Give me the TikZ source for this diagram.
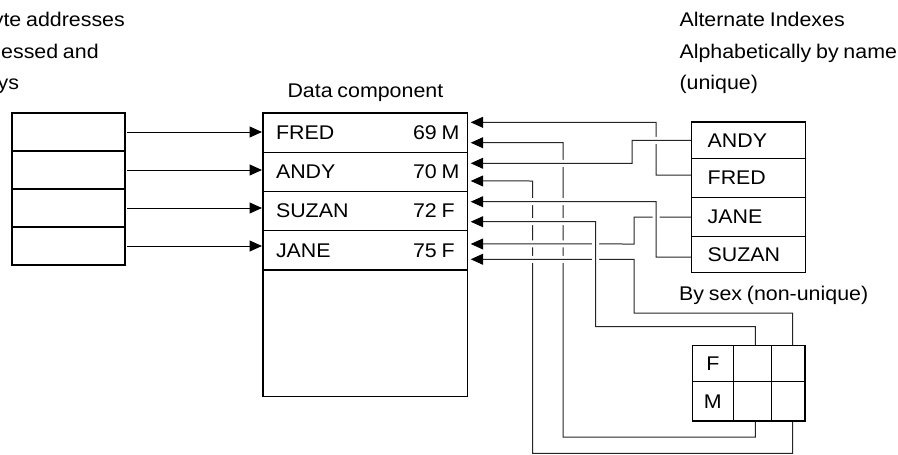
\documentclass[tikz,border=0pt]{standalone}
\usepackage{fontspec}
\setmainfont{Liberation Sans}[FakeStretch=1.08,WordSpace=0.8]
\usetikzlibrary{arrows.meta,backgrounds}
\begin{document}
\begin{tikzpicture}[x=1pt,y=-1pt,
  every node/.style={font=\fontsize{19.8}{22}\selectfont},
  cell/.style={draw=black,line width=1.3pt,anchor=north west,inner sep=0pt,outer sep=0pt},
  drow/.style={cell,minimum width=204.5pt,minimum height=39.25pt},
  irow/.style={cell,minimum width=114pt},
  conn/.style={draw=black!85,line width=1pt,-{Triangle[length=12.5pt,width=11pt,color=black]}},
  halo/.style={preaction={draw=white,line width=7pt,arrows=-}},
  lbl/.style={anchor=base west,inner sep=0pt},
  lblr/.style={anchor=base east,inner sep=0pt}
]
\useasboundingbox (0,0) rectangle (898,455);

% cut-off text at top left
\node[lblr] (c1) at (125,26.5) {yte addresses};
\node[lbl] (c2) at (1,58) {essed and};
\node[lblr] (c3) at (19.3,89) {ys};

% labels on the right
\node[lbl] (t1) at (679.3,26.5) {Alternate Indexes};
\node[lbl] (t2) at (679.3,58) {Alphabetically by name};
\node[lbl] (t3) at (679.3,89) {(unique)};
\node[lbl] (t4) at (679,300) {By sex (non-unique)};

% left box
\node[cell,minimum width=113pt,minimum height=38pt] (l1) at (12,113) {};
\node[cell,minimum width=113pt,minimum height=38pt] (l2) at (12,151) {};
\node[cell,minimum width=113pt,minimum height=38pt] (l3) at (12,189) {};
\node[cell,minimum width=113pt,minimum height=38pt] (l4) at (12,227) {};

% data component
\node[anchor=base,inner sep=0pt] (dlab) at (365.4,97.3) {Data component};
\node[drow] (d1) at (263,113) {\makebox[178.5pt][l]{\makebox[137pt][l]{FRED}69 M}};
\node[drow] (d2) at (263,152.25) {\makebox[178.5pt][l]{\makebox[137pt][l]{ANDY}70 M}};
\node[drow] (d3) at (263,191.5) {\makebox[178.5pt][l]{\makebox[137pt][l]{SUZAN}72 F}};
\node[drow] (d4) at (263,230.75) {\makebox[178.5pt][l]{\makebox[137pt][l]{JANE}75 F}};
\node[cell,minimum width=204.5pt,minimum height=126.7pt] (d5) at (263,270) {};

% alternate index by name
\node[irow,minimum height=36.5pt] (a1) at (691.7,122) {\raisebox{-2pt}{\makebox[82pt][l]{ANDY}}};
\node[irow,minimum height=39pt] (a2) at (691.7,158.5) {\makebox[82pt][l]{FRED}};
\node[irow,minimum height=39pt] (a3) at (691.7,197.5) {\makebox[82pt][l]{JANE}};
\node[irow,minimum height=36pt] (a4) at (691.7,236.5) {\makebox[82pt][l]{SUZAN}};

% alternate index by sex
\node[cell,minimum width=41pt,minimum height=36pt] (s11) at (692.3,345.7) {F};
\node[cell,minimum width=38.4pt,minimum height=36pt] (s12) at (733.3,345.7) {};
\node[cell,minimum width=33.3pt,minimum height=36pt] (s13) at (771.7,345.7) {};
\node[cell,minimum width=41pt,minimum height=39.3pt] (s21) at (692.3,381.7) {M};
\node[cell,minimum width=38.4pt,minimum height=39.3pt] (s22) at (733.3,381.7) {};
\node[cell,minimum width=33.3pt,minimum height=39.3pt] (s23) at (771.7,381.7) {};

\begin{pgfonlayer}{background}
% left pointers
\foreach \i in {1,...,4}
  \draw[conn,draw=black] ([xshift=2pt]l\i.east) -- ([xshift=-1pt]l\i.east -| d\i.west);

% bottom layer
\draw[conn] ([yshift=3pt]a2.west) -| (656,122.3) -- ([xshift=3.2pt,yshift=10.3pt]d1.east);
\draw[conn] ([xshift=2.8pt]s22.south) -- ++(0,16) -| (563,142.7) -- ([xshift=3.2pt,yshift=-10.1pt]d1.east);
\draw[conn] ([xshift=4.3pt]s23.south) -- ++(0,32.3) -| (532.7,181) -- ([xshift=3.2pt,yshift=-9.1pt]d2.east);

% middle layer
\draw[conn,halo] (a3.west) -| (634,244) -- ([xshift=3.2pt,yshift=6.4pt]d4.east);
\draw[conn,halo] ([xshift=4.3pt]s13.north) -- ++(0,-32.7) -| (634,259.3) -- ([xshift=3.2pt,yshift=-8.9pt]d4.east);

% top layer
\draw[conn,halo] (a1.west) -| (632,163.3) -- ([xshift=3.2pt,yshift=8.6pt]d2.east);
\draw[conn,halo] ([yshift=-2.5pt]a4.west) -| (656,201.7) -- ([xshift=3.2pt,yshift=9.4pt]d3.east);
\draw[conn,halo] ([xshift=2.8pt]s12.north) -- ++(0,-19) -| (595.7,221.7) -- ([xshift=3.2pt,yshift=-10.6pt]d3.east);
\end{pgfonlayer}
\end{tikzpicture}
\end{document}
